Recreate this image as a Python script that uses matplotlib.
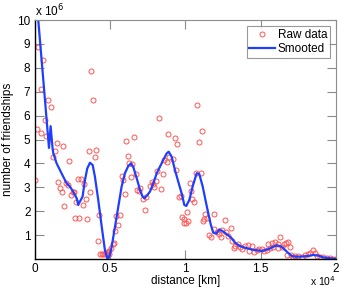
import matplotlib
matplotlib.use('Agg')
import matplotlib.pyplot as plt
import numpy as np

plt.rcParams['font.family'] = ['Liberation Sans', 'DejaVu Sans']

# raw points: distance in thousands of km, friendships in millions
raw_x = [0.04, 0.17, 0.22, 0.40, 0.44, 0.57, 0.66, 0.75, 0.88, 1.08, 1.19, 1.33, 1.46,
         1.57, 1.68, 1.79, 1.88, 1.96, 2.08, 2.21, 2.28, 2.41, 2.52, 2.63, 2.67, 2.74,
         2.85, 2.96, 3.09, 3.18, 3.29, 3.38, 3.49, 3.58, 3.69, 3.76, 3.87, 4.00, 4.09,
         4.18, 4.27, 4.35, 4.45, 4.55, 4.65, 4.75, 4.82, 4.90, 4.95, 5.04, 5.20, 5.26,
         5.35, 5.43, 5.55, 5.68, 5.77, 5.84, 5.99, 6.08, 6.19, 6.28, 6.39, 6.48, 6.59,
         6.70, 6.81, 6.90, 6.96, 7.17, 7.30, 7.41, 7.63, 7.76, 7.87, 7.92, 8.03, 8.14,
         8.27, 8.40, 8.53, 8.55, 8.75, 8.87, 8.91, 9.20, 9.29, 9.36, 9.44, 9.60, 9.71,
         9.77, 9.88, 9.91, 10.04, 10.08, 10.19, 10.30, 10.37, 10.46, 10.59, 10.70, 10.79,
         10.90, 11.01, 11.10, 11.15, 11.25, 11.28, 11.41, 11.55, 11.70, 11.88, 11.90,
         12.08, 12.25, 12.36, 12.45, 12.61, 12.69, 12.85, 13.01, 13.11, 13.23, 13.29,
         13.51, 13.62, 13.73, 13.96, 14.13, 14.24, 14.42, 14.55, 14.73, 14.88, 15.10,
         15.24, 15.41, 15.50, 15.61, 15.72, 15.83, 15.95, 16.12, 16.16, 16.28, 16.43,
         16.56, 16.65, 16.72, 16.83, 16.94, 17.00, 17.16, 17.27, 17.49, 17.72, 17.94,
         18.16, 18.27, 18.49, 18.60, 18.71, 18.93, 19.15, 19.37, 19.60, 19.82, 19.97]
raw_y = [3.29, 5.43, 8.87, 5.28, 7.11, 8.31, 5.82, 5.16, 6.67, 6.36, 4.25, 4.52, 4.85,
         3.22, 2.98, 2.80, 4.74, 2.22, 3.17, 3.10, 4.09, 2.66, 2.82, 2.79, 1.73, 2.38,
         3.35, 1.73, 3.33, 2.27, 3.13, 2.51, 1.67, 4.52, 2.79, 7.87, 6.65, 4.27, 4.55,
         0.75, 1.83, 0.22, 0.22, 0.22, 0.22, 0.25, 0.28, 0.20, 0.35, 0.45, 0.63, 0.68,
         1.17, 1.80, 1.42, 1.83, 3.47, 3.31, 2.72, 4.92, 4.31, 4.00, 3.42, 3.97, 5.09,
         3.56, 2.89, 2.85, 2.97, 2.52, 2.05, 2.61, 3.05, 3.22, 3.14, 3.00, 3.28, 3.69,
         5.89, 2.92, 3.56, 4.14, 4.07, 5.23, 4.28, 4.18, 5.05, 3.72, 4.81, 2.61, 2.64,
         1.74, 1.49, 1.66, 1.52, 1.98, 1.59, 3.17, 2.86, 2.51, 2.37, 3.61, 6.44,
         4.90, 3.61, 5.34, 1.59, 1.69, 1.87, 1.73, 1.00, 0.91, 1.26, 1.90,
         1.14, 1.05, 0.91, 1.21, 1.62, 1.12, 0.96, 1.31, 0.74, 0.45, 0.54,
         0.63, 0.49, 0.41, 0.54, 0.59, 0.33, 0.56, 0.31, 0.38, 0.41, 0.43,
         0.33, 0.38, 0.63, 0.45, 0.66, 0.51, 0.72, 0.63, 0.45, 0.91, 0.51,
         0.63, 0.66, 0.17, 0.72, 0.51, 0.17, 0.10, 0.13, 0.13, 0.07, 0.17,
         0.21, 0.26, 0.38, 0.26, 0.13, 0.10, 0.07, 0.05, 0.03, 0.01, 0.01]

smooth_x = [0.0, 0.24, 0.6, 0.95, 1.06, 1.19, 1.24, 1.46, 1.68, 1.90, 2.12, 2.34, 2.56,
            2.79, 2.89, 3.00, 3.18, 3.34, 3.49, 3.67, 3.85, 4.00, 4.22, 4.45, 4.66,
            4.82, 4.89, 4.99, 5.11, 5.33, 5.55, 5.77, 5.99, 6.21, 6.39, 6.54, 6.77,
            6.99, 7.14, 7.27, 7.43, 7.65, 7.87, 8.10, 8.31, 8.53, 8.76, 8.89, 9.09,
            9.31, 9.53, 9.75, 9.93, 10.06, 10.26, 10.48, 10.75, 10.92, 11.15, 11.41,
            11.68, 11.85, 12.05, 12.25, 12.48, 12.74, 13.07, 13.29, 13.62, 14.07,
            14.51, 14.95, 15.06, 15.50, 15.83, 16.06, 16.28, 16.50, 16.72, 17.05,
            17.27, 17.71, 18.16, 18.49, 18.82, 19.15, 19.48, 19.93]
smooth_y = [11.8, 10.0, 7.3, 4.65, 5.56, 4.63, 4.42, 4.00, 3.72, 3.44, 3.17, 3.03, 2.82,
            2.54, 2.26, 2.40, 2.61, 3.31, 3.79, 4.03, 3.93, 3.44, 2.47, 1.35, 0.38,
            0.03, 0.03, 0.17, 0.51, 1.35, 2.19, 3.03, 3.59, 3.89, 4.00, 3.86, 3.38,
            2.89, 2.64, 2.54, 2.64, 2.82, 3.17, 3.59, 3.86, 4.14, 4.42, 4.49, 4.28,
            3.72, 3.23, 2.75, 2.26, 2.22, 2.47, 3.03, 3.59, 3.56, 3.03, 2.23,
            1.45, 1.10, 1.06, 1.24, 1.16, 1.04, 0.87, 0.68, 0.54, 0.45,
            0.38, 0.35, 0.33, 0.41, 0.51, 0.57, 0.54, 0.45, 0.31, 0.13,
            0.10, 0.10, 0.13, 0.17, 0.14, 0.07, 0.04, 0.01]

x_ticks = [0, 5000, 10000, 15000, 20000]
x_tick_labels = ['0', '0.5', '1', '1.5', '2']
y_ticks = [1, 2, 3, 4, 5, 6, 7, 8, 9, 10]

fig = plt.figure(figsize=(3.43, 2.91), dpi=100)
ax = fig.add_axes([0.101, 0.110, 0.879, 0.821])

ax.plot(np.array(raw_x) * 1000, np.array(raw_y) * 1e6, 'o', mfc='none', mec='#ff5555',
        ms=3.6, mew=0.7, label='Raw data')
ax.plot(np.array(smooth_x) * 1000, np.array(smooth_y) * 1e6, color='#1f3fff', lw=1.6,
        label='Smooted')

ax.set_xlim(0, 20000)
ax.set_ylim(0, 10e6)
ax.set_xticks(x_ticks)
ax.set_xticklabels(x_tick_labels)
ax.set_yticks([v * 1e6 for v in y_ticks])
ax.set_yticklabels([str(v) for v in y_ticks])
ax.tick_params(direction='in', length=6.5, width=0.8, color='0.55', labelsize=8.5,
               top=True, right=True, pad=3)
for s in ['top', 'right']:
    ax.spines[s].set_color('0.55')
for s in ['left', 'bottom']:
    ax.spines[s].set_color('black')
    ax.spines[s].set_linewidth(1.0)

ax.set_xlabel('distance [km]', fontsize=8.5, labelpad=0)
ax.set_ylabel('number of friendships', fontsize=8.5, labelpad=2)
ax.text(0.0, 1.005, 'x 10$^{6}$', transform=ax.transAxes, fontsize=8.5, ha='left', va='bottom')
ax.text(1.0, -0.065, 'x 10$^{4}$', transform=ax.transAxes, fontsize=7.5, ha='right', va='top')

leg = ax.legend(loc='upper right', fontsize=8.5, frameon=True, fancybox=False,
                edgecolor='0.5', borderpad=0.25, handlelength=2.2, handletextpad=0.2,
                labelspacing=0.15, borderaxespad=0.5, markerscale=1.0)
leg.get_frame().set_linewidth(0.8)

fig.savefig('out.png', dpi=100)
